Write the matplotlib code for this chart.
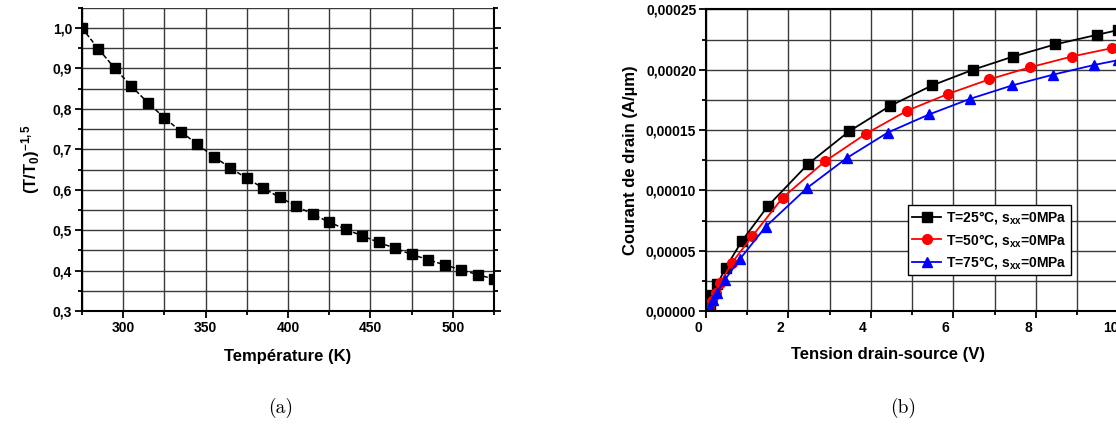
import matplotlib
matplotlib.use("Agg")
import matplotlib.pyplot as plt
from matplotlib.ticker import MultipleLocator, FuncFormatter
from matplotlib.transforms import ScaledTranslation

# (a) normalised temperature factor
temperature = [275, 285, 295, 305, 315, 325, 335, 345, 355, 365, 375, 385, 395,
               405, 415, 425, 435, 445, 455, 465, 475, 485, 495, 505, 515, 525]
ratio = [1.000, 0.948, 0.900, 0.856, 0.815, 0.778, 0.744, 0.712, 0.682, 0.654,
         0.628, 0.604, 0.581, 0.560, 0.539, 0.520, 0.502, 0.486, 0.470, 0.455,
         0.440, 0.427, 0.414, 0.402, 0.390, 0.379]

# (b) drain current vs drain-source voltage
v_25 = [0.10, 0.15, 0.27, 0.48, 0.87, 1.50, 2.48, 3.47, 4.46, 5.48, 6.47,
        7.45, 8.46, 9.48, 10.0]
i_25 = [0.000005, 0.000013, 0.000022, 0.000036, 0.000058, 0.000087, 0.000122,
        0.000149, 0.000170, 0.000187, 0.000200, 0.000211, 0.000221, 0.000229,
        0.000233]
v_50 = [0.08, 0.15, 0.24, 0.34, 0.63, 1.12, 1.86, 2.88, 3.88, 4.87, 5.87,
        6.86, 7.85, 8.87, 9.85]
i_50 = [0.000002, 0.000008, 0.000015, 0.000023, 0.000040, 0.000062, 0.000094,
        0.000124, 0.000147, 0.000166, 0.000180, 0.000192, 0.000202, 0.000211,
        0.000218]
v_75 = [0.10, 0.17, 0.26, 0.46, 0.82, 1.45, 2.45, 3.42, 4.41, 5.41, 6.41,
        7.42, 8.42, 9.41, 10.0]
i_75 = [0.000003, 0.000009, 0.000015, 0.000026, 0.000043, 0.000070, 0.000102,
        0.000127, 0.000148, 0.000163, 0.000176, 0.000187, 0.000196, 0.000204,
        0.000208]
labels = ["T=25°C, s$_{xx}$=0MPa", "T=50°C, s$_{xx}$=0MPa",
          "T=75°C, s$_{xx}$=0MPa"]

plt.rcParams["font.family"] = "Liberation Sans"
plt.rcParams["font.weight"] = "bold"
plt.rcParams["mathtext.fontset"] = "custom"
plt.rcParams["mathtext.rm"] = "Liberation Sans:bold"
plt.rcParams["mathtext.it"] = "Liberation Sans:bold"
plt.rcParams["mathtext.bf"] = "Liberation Sans:bold"
plt.rcParams["mathtext.default"] = "regular"


def comma(fmt):
    return FuncFormatter(lambda v, pos: (fmt % v).replace(".", ","))


def style(ax):
    for s in ax.spines.values():
        s.set_linewidth(1.5)
    ax.grid(True, which="major", color="#3a3a3a", lw=1.0)
    ax.grid(True, which="minor", color="#3a3a3a", lw=1.0)
    ax.set_axisbelow(True)
    ax.tick_params(which="major", direction="out", length=5, width=1.3,
                   labelsize=10, pad=2)
    ax.tick_params(which="minor", direction="out", length=3, width=1.3)


def main():
    fig = plt.figure(figsize=(11.16, 4.24), dpi=100)
    W, H = 1116, 424

    # ---- left chart
    ax1 = fig.add_axes([82 / W, (H - 311) / H, 412 / W, (311 - 7.8) / H])
    style(ax1)
    ax1.plot(temperature, ratio, color="black", lw=1.1, ls=(0, (3, 1.5)),
             marker="s", markersize=6.5)
    ax1.set_xlim(275, 525)
    ax1.set_ylim(0.3, 1.05)
    ax1.xaxis.set_major_locator(MultipleLocator(50))
    ax1.xaxis.set_minor_locator(MultipleLocator(25))
    ax1.yaxis.set_major_locator(MultipleLocator(0.1))
    ax1.yaxis.set_minor_locator(MultipleLocator(0.05))
    ax1.yaxis.set_major_formatter(comma("%.1f"))
    ax1.tick_params(which="both", right=True)
    ax1.spines["top"].set_visible(False)
    ax1.set_xlabel("Température (K)", fontsize=12, fontweight="bold",
                   labelpad=10)
    ax1.set_ylabel("(T/T$_{0}$)$^{-1,5}$", fontsize=12, fontweight="bold",
                   labelpad=8)

    # ---- right chart
    ax2 = fig.add_axes([706 / W, (H - 311) / H, 433 / W, (311 - 9.5) / H])
    style(ax2)
    ax2.plot(v_25, i_25, color="black", lw=1.3, marker="s", markersize=6.5,
             label=labels[0])
    ax2.plot(v_50, i_50, color="red", lw=1.3, marker="o", markersize=7,
             label=labels[1])
    ax2.plot(v_75, i_75, color="blue", lw=1.3, marker="^", markersize=7.5,
             label=labels[2])
    ax2.set_xlim(0, 10.5)
    ax2.set_ylim(0, 0.00025)
    ax2.xaxis.set_major_locator(MultipleLocator(2))
    ax2.xaxis.set_minor_locator(MultipleLocator(1))
    ax2.yaxis.set_major_locator(MultipleLocator(0.00005))
    ax2.yaxis.set_minor_locator(MultipleLocator(0.000025))
    ax2.yaxis.set_major_formatter(comma("%.5f"))
    ax2.set_xlabel("Tension drain-source (V)", fontsize=12, fontweight="bold")
    ax2.xaxis.set_label_coords((888 - 706) / 433, -0.118)
    ax2.set_ylabel("Courant de drain (A/µm)", fontsize=12, fontweight="bold",
                   labelpad=6)
    shift = ScaledTranslation(-8 / 100, 0, fig.dpi_scale_trans)
    for lab in ax2.get_xticklabels():
        lab.set_transform(lab.get_transform() + shift)

    leg = ax2.legend(loc="upper left",
                     bbox_to_anchor=((908 - 706) / 433, (311 - 205) / 301.5),
                     borderaxespad=0, fancybox=False, framealpha=1,
                     edgecolor="black", fontsize=10, handlelength=2.1,
                     handletextpad=0.35, labelspacing=0.4, borderpad=0.3)
    leg.get_frame().set_linewidth(1.0)

    # captions
    fig.text(281 / W, 1 - 408 / H, "(a)", family="cmr10", fontsize=14,
             fontweight="normal", ha="center", va="center")
    fig.text(903 / W, 1 - 408 / H, "(b)", family="cmr10", fontsize=14,
             fontweight="normal", ha="center", va="center")

    fig.savefig("out.png", dpi=100)


if __name__ == "__main__":
    main()
